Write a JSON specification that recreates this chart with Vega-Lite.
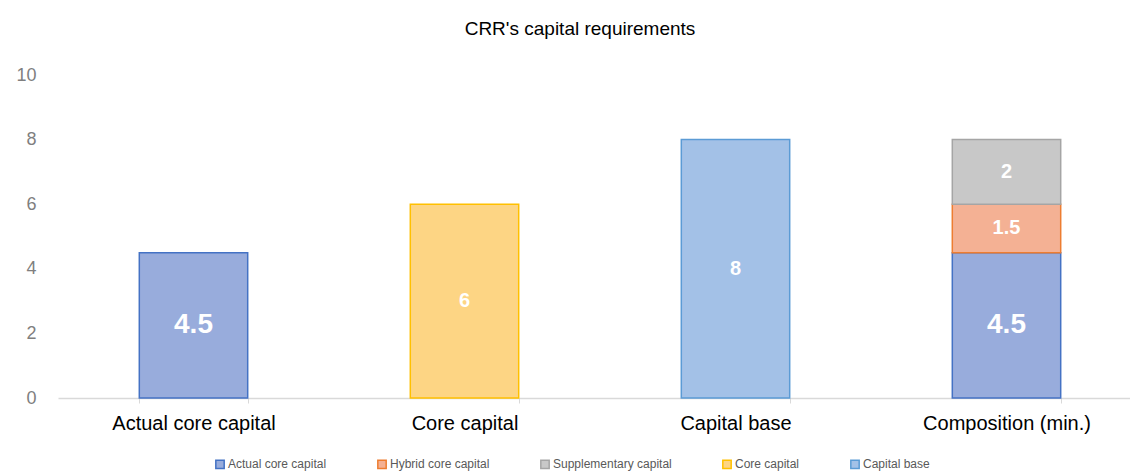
{
  "$schema": "https://vega.github.io/schema/vega-lite/v6.json",
  "autosize": "none",
  "width": 1072,
  "height": 323,
  "padding": {"left": 58, "top": 75, "right": 0, "bottom": 74},
  "background": "white",
  "title": {
    "text": "CRR's capital requirements",
    "anchor": "middle",
    "frame": "group",
    "dx": -14,
    "offset": 27,
    "font": "Liberation Sans",
    "fontSize": 19,
    "fontWeight": "normal",
    "color": "#000000"
  },
  "config": {
    "view": {"stroke": null},
    "font": "Liberation Sans"
  },
  "data": {
    "values": [
      {"cat": "Actual core capital", "series": "Actual core capital", "value": 4.5, "rank": 1},
      {"cat": "Core capital", "series": "Core capital", "value": 6, "rank": 1},
      {"cat": "Capital base", "series": "Capital base", "value": 8, "rank": 1},
      {"cat": "Composition (min.)", "series": "Actual core capital", "value": 4.5, "rank": 1},
      {"cat": "Composition (min.)", "series": "Hybrid core capital", "value": 1.5, "rank": 2},
      {"cat": "Composition (min.)", "series": "Supplementary capital", "value": 2, "rank": 3}
    ]
  },
  "encoding": {
    "x": {
      "field": "cat",
      "type": "nominal",
      "sort": ["Actual core capital", "Core capital", "Capital base", "Composition (min.)"],
      "scale": {"paddingInner": 0.6, "paddingOuter": 0.3, "range": [0, 1084]},
      "axis": {
        "title": null,
        "labelAngle": 0,
        "labelFontSize": 20,
        "labelColor": "#000000",
        "labelPadding": 10,
        "domainColor": "#d9d9d9",
        "domainWidth": 1.5,
        "tickColor": "#d9d9d9",
        "tickSize": 5,
        "tickBand": "extent",
        "grid": false
      }
    }
  },
  "layer": [
    {
      "mark": {"type": "bar", "strokeWidth": 1.5},
      "encoding": {
        "y": {
          "field": "value",
          "type": "quantitative",
          "stack": "zero",
          "scale": {"domain": [0, 10], "nice": false},
          "axis": {
            "title": null,
            "values": [0, 2, 4, 6, 8, 10],
            "domain": false,
            "ticks": false,
            "grid": false,
            "labelFontSize": 18,
            "labelColor": "#7f7f7f",
            "labelPadding": 22
          }
        },
        "order": {"field": "rank", "type": "quantitative"},
        "fill": {
          "field": "series",
          "type": "nominal",
          "scale": {
            "domain": ["Actual core capital", "Hybrid core capital", "Supplementary capital", "Core capital", "Capital base"],
            "range": ["#98acdc", "#f4b194", "#c8c8c8", "#fdd584", "#a3c1e7"]
          },
          "legend": {
            "title": null,
            "orient": "none",
            "legendX": 156,
            "legendY": 383,
            "direction": "horizontal",
            "symbolType": "square",
            "symbolSize": 70,
            "symbolStrokeWidth": 1.5,
            "labelFontSize": 12,
            "labelColor": "#595959",
            "labelOffset": 2,
            "columnPadding": 47
          }
        },
        "stroke": {
          "field": "series",
          "type": "nominal",
          "scale": {
            "domain": ["Actual core capital", "Hybrid core capital", "Supplementary capital", "Core capital", "Capital base"],
            "range": ["#4472c4", "#ed7d31", "#a5a5a5", "#ffc000", "#5b9bd5"]
          }
        }
      }
    },
    {
      "transform": [
        {"stack": "value", "groupby": ["cat"], "sort": [{"field": "rank"}], "as": ["v0", "v1"]},
        {"calculate": "(datum.v0 + datum.v1) / 2", "as": "mid"}
      ],
      "mark": {"type": "text", "color": "white", "fontWeight": "bold", "baseline": "middle", "font": "Liberation Sans"},
      "encoding": {
        "y": {"field": "mid", "type": "quantitative"},
        "text": {"field": "value", "type": "quantitative"},
        "size": {"condition": {"test": "datum.series === 'Actual core capital'", "value": 28}, "value": 20}
      }
    }
  ]
}
